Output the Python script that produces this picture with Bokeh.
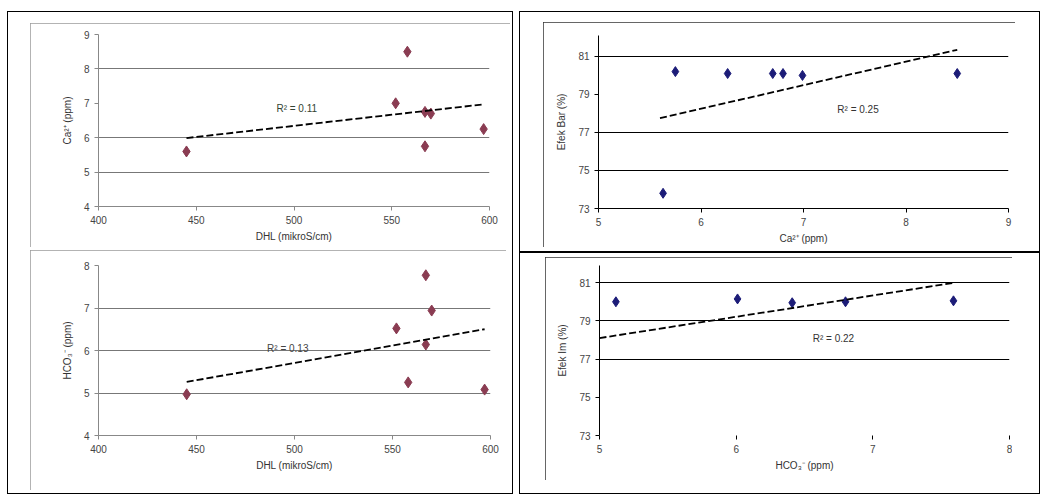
from bokeh.plotting import figure
from bokeh.models import Range1d, FixedTicker, Label
from bokeh.layouts import row, column
from bokeh.embed import file_html
from bokeh.resources import INLINE

FONT = "Liberation Sans"

# ---------------- data ----------------
dhl = [445, 552, 558, 567, 570, 567, 597]
ca_ppm = [5.6, 7.0, 8.5, 6.75, 6.7, 5.75, 6.25]
hco3_ppm = [4.97, 6.52, 5.25, 7.77, 6.94, 6.14, 5.08]

ca_x = [5.63, 5.75, 6.26, 6.70, 6.80, 6.99, 8.50]
efek_ca = [73.8, 80.2, 80.1, 80.1, 80.1, 80.0, 80.1]

hco3_x = [5.12, 6.01, 6.41, 6.80, 7.59]
efek_hco3 = [80.0, 80.15, 79.95, 80.0, 80.05]

trend_tl_x = [445, 597]
trend_tl_y = [5.99, 6.97]
trend_bl_x = [445, 597]
trend_bl_y = [5.26, 6.50]
trend_tr_x = [5.6, 8.5]
trend_tr_y = [77.75, 81.35]
trend_br_x = [5.0, 7.6]
trend_br_y = [78.1, 81.0]

dhl_ticks = [400, 450, 500, 550, 600]
ppm_ticks = [4, 5, 6, 7, 8, 9]
ca_ticks = [5, 6, 7, 8, 9]
hco3_ticks = [5, 6, 7, 8]
efek_ticks = [73, 75, 77, 79, 81]

r2_labels = ["R² = 0.11", "R² = 0.25", "R² = 0.13", "R² = 0.22"]

LEFT_MARK = "#8a3c52"
RIGHT_MARK = "#1c1c78"


def make_chart(fw, fh, bl, br, bt, bb, xr, yr, xticks, yticks, grid_vals,
               xlabel, ylabel, axis_color, grid_color, box_color, margin):
    p = figure(frame_width=fw, frame_height=fh, x_range=Range1d(*xr), y_range=Range1d(*yr),
               output_backend="svg", toolbar_location=None,
               min_border_left=bl, min_border_right=br, min_border_top=bt, min_border_bottom=bb,
               background_fill_color="white", border_fill_color="white",
               margin=margin,
               styles={"outline": "1px solid " + box_color, "outline-offset": "-1px"})
    p.outline_line_color = None
    p.xgrid.visible = False
    p.ygrid.ticker = FixedTicker(ticks=grid_vals)
    p.ygrid.grid_line_color = grid_color
    p.ygrid.grid_line_width = 1.2
    p.xaxis.ticker = FixedTicker(ticks=xticks)
    p.yaxis.ticker = FixedTicker(ticks=yticks)
    for ax in (p.xaxis, p.yaxis):
        ax.axis_line_color = axis_color
        ax.major_tick_line_color = axis_color
        ax.minor_tick_line_color = None
        ax.major_tick_in = 0
        ax.major_tick_out = 4
        ax.major_label_text_font = FONT
        ax.major_label_text_font_size = "10px"
        ax.major_label_text_color = "#444444"
        ax.axis_label_text_font = FONT
        ax.axis_label_text_font_size = "10px"
        ax.axis_label_text_font_style = "normal"
        ax.axis_label_text_color = "#333333"
    p.xaxis.axis_label = xlabel
    p.yaxis.axis_label = ylabel
    p.xaxis.axis_label_standoff = 4
    p.yaxis.axis_label_standoff = 8
    return p


# top-left: Ca vs DHL  (box 30..510 x 23..247)
p1 = make_chart(391, 172, 68, 21, 11, 41, (400, 600), (4, 9), dhl_ticks, ppm_ticks,
                [5, 6, 8, 9], "DHL (mikroS/cm)", "Ca²⁺ (ppm)", "#888888", "#777777",
                "#9a9a9a", (12, 3, 0, 23))
p1.scatter(dhl, ca_ppm, marker="diamond", size=11, fill_color=LEFT_MARK, line_color=LEFT_MARK)
p1.line(trend_tl_x, trend_tl_y, line_color="black", line_width=1.8, line_dash="7 3")
p1.add_layout(Label(x=491, y=6.85, text=r2_labels[0], text_font=FONT, text_font_size="10px",
                    text_color="#334433", text_baseline="middle"))

# bottom-left: HCO3 vs DHL  (box 30..506 x 250..490)
p3 = make_chart(392, 170, 68, 16, 15, 55, (400, 600), (4, 8), dhl_ticks, [4, 5, 6, 7, 8],
                [4, 5, 6, 7, 8], "DHL (mikroS/cm)", "HCO₃⁻ (ppm)", "#888888", "#777777",
                "#9a9a9a", (3, 7, 4, 23))
p3.scatter(dhl, hco3_ppm, marker="diamond", size=11, fill_color=LEFT_MARK, line_color=LEFT_MARK)
p3.line(trend_bl_x, trend_bl_y, line_color="black", line_width=1.8, line_dash="7 3")
p3.add_layout(Label(x=486, y=6.05, text=r2_labels[2], text_font=FONT, text_font_size="10px",
                    text_color="#444444", text_baseline="middle"))

# top-right: efek vs Ca  (box 543..1015 x 22..247)
p2 = make_chart(410, 173, 55, 7, 13, 39, (5, 9), (73, 82.1), ca_ticks, efek_ticks,
                [75, 77, 81], "Ca²⁺ (ppm)", "Efek Bar (%)", "black", "black",
                "#333333", (11, 25, 5, 24))
p2.scatter(ca_x, efek_ca, marker="diamond", size=10, fill_color=RIGHT_MARK, line_color=RIGHT_MARK)
p2.line(trend_tr_x, trend_tr_y, line_color="black", line_width=1.8, line_dash="7 3")
p2.add_layout(Label(x=7.33, y=78.2, text=r2_labels[1], text_font=FONT, text_font_size="10px",
                    text_color="#333333", text_baseline="middle"))

# bottom-right: efek vs HCO3  (box 545..1012 x 257..480)
p4 = make_chart(410, 170, 54, 3, 8, 45, (5, 8), (73, 81.9), hco3_ticks, efek_ticks,
                [77, 79, 81], "HCO₃⁻ (ppm)", "Efek Im (%)", "black", "black",
                "#333333", (5, 28, 14, 26))
p4.xaxis.axis_line_alpha = 0
p4.scatter(hco3_x, efek_hco3, marker="diamond", size=10, fill_color=RIGHT_MARK, line_color=RIGHT_MARK)
p4.line(trend_br_x, trend_br_y, line_color="black", line_width=1.8, line_dash="7 3")
p4.add_layout(Label(x=6.56, y=78.1, text=r2_labels[3], text_font=FONT, text_font_size="10px",
                    text_color="#333333", text_baseline="middle"))

frame_style = {"outline": "1.5px solid black", "outline-offset": "-1px"}
left_panel = column(p1, p3, spacing=0, margin=(11, 0, 0, 7), styles=frame_style)
right_top = column(p2, spacing=0, margin=0, styles=frame_style)
right_bottom = column(p4, spacing=0, margin=0, styles=frame_style)
right_panel = column(right_top, right_bottom, spacing=0, margin=(11, 0, 0, 6))

layout = row(left_panel, right_panel, spacing=0, margin=0)
open("out.html", "w").write(file_html(layout, INLINE))
